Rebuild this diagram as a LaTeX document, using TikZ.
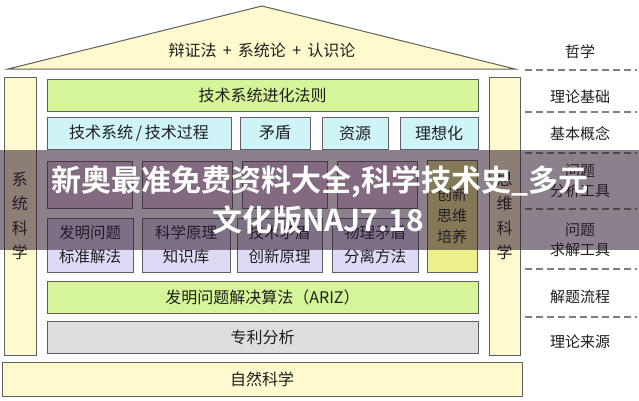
\documentclass[tikz,border=0pt]{standalone}
\usepackage{fontspec}
\usepackage{tikz}
\newfontfamily\cjk{Noto Sans CJK SC}
\newfontfamily\wmark{Noto Sans CJK SC Bold}
\definecolor{cream}{RGB}{255,249,206}
\definecolor{leaf}{RGB}{214,245,152}
\definecolor{sky}{RGB}{206,244,248}
\definecolor{rose}{RGB}{238,206,232}
\definecolor{lilac}{RGB}{222,218,246}
\definecolor{straw}{RGB}{236,240,140}
\definecolor{ash}{RGB}{222,222,222}
\definecolor{edge}{RGB}{95,95,95}
\definecolor{ink}{RGB}{30,30,30}
\definecolor{veil}{RGB}{45,25,45}

\begin{document}
\begin{tikzpicture}[x=1pt,y=-1pt,
	block/.style={draw=edge,line width=0.9pt,text=ink,inner sep=0pt,align=center,
		font=\cjk\fontsize{16}{19}\selectfont},
	pair/.style={block,font=\cjk\fontsize{15.5}{24}\selectfont},
	tag/.style={text=ink,align=center,font=\cjk\fontsize{15}{20}\selectfont},
	sep/.style={draw=edge!80,line width=1.1pt,dash pattern=on 7pt off 4pt}]
	\useasboundingbox (0,0) rectangle (639,400);
	\fill[white] (0,0) rectangle (639,400);
	% roof
	\draw[edge,line width=1pt,fill=cream] (8,69) -- (262,6) -- (515,69) -- cycle;
	\node[tag,font=\cjk\fontsize{16}{19}\selectfont] (roof) at (262,50) {辩证法 \,+\, 系统论 \,+\, 认识论};
	% side columns
	\node[block,fill=cream,minimum width=32pt,minimum height=278pt,font=\cjk\fontsize{16}{24.5}\selectfont] (lcol) at (20,216) {系\\统\\科\\学};
	\node[block,fill=cream,minimum width=31pt,minimum height=278pt,font=\cjk\fontsize{16}{24.5}\selectfont] (rcol) at (504.5,216) {思\\维\\科\\学};
	% inner blocks
	\node[block,fill=leaf,minimum width=431pt,minimum height=32pt] (laws) at (262.5,95) {技术系统进化法则};
	\node[block,fill=sky,minimum width=184pt,minimum height=32pt] (sys) at (139,133) {技术系统\,/\,技术过程};
	\node[block,fill=sky,minimum width=70pt,minimum height=32pt] (contra) at (275,133) {矛盾};
	\node[block,fill=sky,minimum width=66pt,minimum height=32pt] (res) at (355,133) {资源};
	\node[block,fill=sky,minimum width=78pt,minimum height=32pt] (ideal) at (439,133) {理想化};
	\node[block,fill=rose,minimum width=85pt,minimum height=47pt] (ana1) at (89.5,184.5) {};
	\node[block,fill=rose,minimum width=90pt,minimum height=47pt] (ana2) at (187,184.5) {};
	\node[block,fill=rose,minimum width=85pt,minimum height=47pt] (ana3) at (284.5,184.5) {};
	\node[block,fill=rose,minimum width=80pt,minimum height=47pt] (ana4) at (377,184.5) {};
	\node[pair,fill=lilac,minimum width=86pt,minimum height=54pt] (std) at (90,245) {发明问题\\标准解法};
	\node[pair,fill=lilac,minimum width=88pt,minimum height=54pt] (know) at (186,245) {科学原理\\知识库};
	\node[pair,fill=lilac,minimum width=85pt,minimum height=54pt] (prin) at (279.5,245) {技术矛盾\\创新原理};
	\node[pair,fill=lilac,minimum width=86pt,minimum height=54pt] (split) at (375,245) {物理矛盾\\分离方法};
	\node[block,fill=straw,minimum width=50pt,minimum height=112pt,font=\cjk\fontsize{15}{21}\selectfont] (mind) at (452,216) {创新\\思维\\培养};
	\node[block,fill=leaf,minimum width=431pt,minimum height=32pt] (ariz) at (262.5,297) {发明问题解决算法（ARIZ）};
	\node[block,fill=ash,minimum width=431pt,minimum height=32pt] (patent) at (262.5,337) {专利分析};
	\node[block,fill=cream,minimum width=520pt,minimum height=34pt] (nature) at (262,379) {自然科学};
	% level labels
	\node[tag] (philo) at (580,52) {哲学};
	\node[tag] (basis) at (580,97) {理论基础};
	\node[tag] (concept) at (580,134) {基本概念};
	\node[tag] (antool) at (580,181) {问题\\分析工具};
	\node[tag] (sotool) at (580,240) {问题\\求解工具};
	\node[tag] (flow) at (580,297) {解题流程};
	\node[tag] (source) at (580,342) {理论来源};
	\foreach \y in {70,112,153,209,269,317}
		\draw[sep] (525,\y) -- (637,\y);
	% overlay band
	\fill[veil,opacity=0.55] (0,150) rectangle (639,250);
	\node[white,font=\wmark\fontsize{30}{34}\selectfont] (wm1) at (320,182) {新奥最准免费资料大全,科学技术史\_多元};
	\node[white,font=\wmark\fontsize{30}{34}\selectfont] (wm2) at (318,220) {文化版NAJ7.18};
\end{tikzpicture}
\end{document}
